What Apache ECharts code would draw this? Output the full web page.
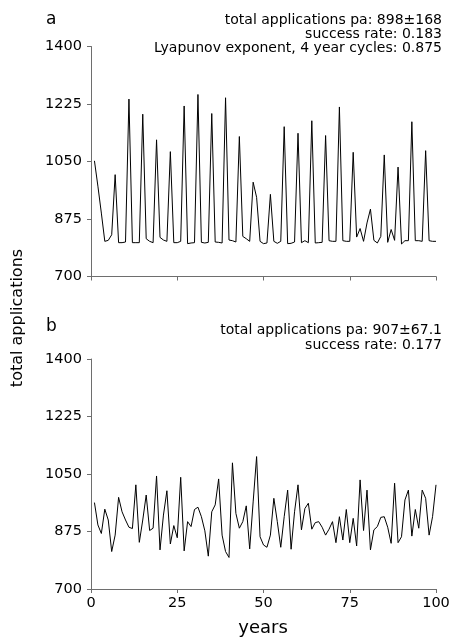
<!DOCTYPE html>
<html>
<head>
<meta charset="utf-8">
<script src="https://cdn.jsdelivr.net/npm/echarts@6/dist/echarts.min.js"></script>
<style>
html,body{margin:0;padding:0;background:#fff;}
#chart{width:453px;height:643px;}
</style>
</head>
<body>
<div id="chart"></div>
<script>
// ---- data ----
const appsA = [1052,975,893,807,810,827,1010,803,803,805,
  1240,803,803,803,1194,815,807,803,1116,819,
  811,807,1080,803,803,807,1219,800,802,803,
  1254,804,802,804,1196,805,804,802,1244,811,
  809,805,1126,822,815,807,987,941,807,800,
  802,950,807,801,807,1156,800,801,805,1136,
  803,809,803,1174,802,803,804,1129,809,807,
  807,1216,809,807,807,1078,820,846,807,863,
  905,810,802,822,1070,804,843,810,1033,799,
  809,809,1171,809,809,807,1083,809,807,807];
const appsB = [963,895,869,943,910,814,864,979,935,910,
  888,884,1017,842,910,986,878,885,1044,819,
  925,999,837,893,856,1040,816,905,890,942,
  949,920,877,800,935,956,1035,864,814,796,
  1084,930,885,905,953,822,965,1103,859,834,
  827,864,976,905,827,920,1001,821,935,1017,
  880,945,961,882,902,905,888,864,882,905,
  841,920,849,942,841,915,831,1032,878,1001,
  819,880,890,918,920,888,839,1022,841,859,
  971,1001,861,942,885,1001,976,864,920,1017];
const xTicks = [0,25,50,75,100];
const yTicks = [700,875,1050,1225,1400];
const panelLabels = ['a','b'];
const notesA = ['total applications pa: 898\u00b1168','success rate: 0.183','Lyapunov exponent, 4 year cycles: 0.875'];
const notesB = ['total applications pa: 907\u00b167.1','success rate: 0.177'];
const yName = 'total applications';
const xName = 'years';

// ---- chart ----
const FONT = 'DejaVu Sans';
const axisColor = '#6e6e6e';
function pairs(vals){ return vals.map((v,i)=>[i+1, v]); }

function xAxisCfg(grid, showLabels){
  return {
    type:'value', gridIndex:grid, min:xTicks[0], max:xTicks[xTicks.length-1],
    interval:xTicks[1]-xTicks[0],
    axisLine:{show:true, onZero:false, lineStyle:{color:axisColor,width:1}},
    axisTick:{show:true, length:4, lineStyle:{color:axisColor}},
    axisLabel:{show:showLabels, color:'#000', fontFamily:FONT, fontSize:14.5, margin:7,
               formatter:v=>String(v)},
    splitLine:{show:false}
  };
}
function yAxisCfg(grid){
  return {
    type:'value', gridIndex:grid, min:yTicks[0], max:yTicks[yTicks.length-1],
    interval:yTicks[1]-yTicks[0],
    axisLine:{show:true, lineStyle:{color:axisColor,width:1}},
    axisTick:{show:true, length:4, lineStyle:{color:axisColor}},
    axisLabel:{color:'#000', fontFamily:FONT, fontSize:14.5, margin:9,
               formatter:v=>String(v)},
    splitLine:{show:false}
  };
}
function notes(lines, y0, dy){
  return lines.map((t,i)=>({
    type:'text', right:11, top:y0+i*dy,
    style:{text:t, fill:'#000', font:'14px "'+FONT+'"', textAlign:'right'}
  }));
}

const chart = echarts.init(document.getElementById('chart'), null, {renderer:'canvas'});
chart.setOption({
  animation:false,
  backgroundColor:'#fff',
  grid:[
    {left:91, width:345, top:46.5, height:230},
    {left:91, width:345, top:359, height:230}
  ],
  xAxis:[xAxisCfg(0,false), xAxisCfg(1,true)],
  yAxis:[yAxisCfg(0), yAxisCfg(1)],
  series:[
    {type:'line', xAxisIndex:0, yAxisIndex:0, data:pairs(appsA), showSymbol:false,
     lineStyle:{color:'#000', width:1}},
    {type:'line', xAxisIndex:1, yAxisIndex:1, data:pairs(appsB), showSymbol:false,
     lineStyle:{color:'#000', width:1}}
  ],
  graphic:[
    {type:'text', left:46, top:11, style:{text:panelLabels[0], fill:'#000', font:'17px "'+FONT+'"'}},
    {type:'text', left:46, top:318, style:{text:panelLabels[1], fill:'#000', font:'17px "'+FONT+'"'}},
    ...notes(notesA, 13, 14),
    ...notes(notesB, 323, 15),
    {type:'text', x:18, y:318, rotation:Math.PI/2,
     style:{text:yName, fill:'#000', font:'16px "'+FONT+'"', textAlign:'center', textVerticalAlign:'middle'}},
    {type:'text', x:263, y:628,
     style:{text:xName, fill:'#000', font:'18px "'+FONT+'"', textAlign:'center', textVerticalAlign:'middle'}}
  ]
});
</script>
</body>
</html>
